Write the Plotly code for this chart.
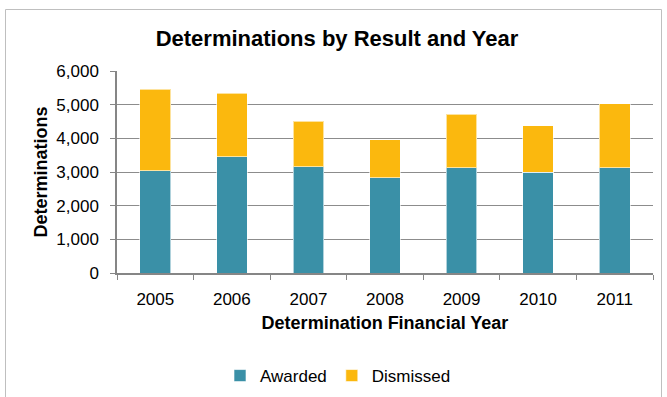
import plotly.graph_objects as go

years = ["2005", "2006", "2007", "2008", "2009", "2010", "2011"]
awarded = [3040, 3460, 3160, 2830, 3130, 3000, 3130]
dismissed = [2420, 1880, 1345, 1130, 1585, 1375, 1890]

W, H = 667, 397
L, R, T, B = 117, 14, 71, 124
pw, ph = W - L - R, H - T - B

def px(x):
    return (x - L) / pw

def py(y):
    return (H - B - y) / ph

font = "Liberation Sans, Arial, sans-serif"

fig = go.Figure()
fig.add_trace(go.Bar(x=years, y=awarded, name="Awarded", marker_color="#3A90A7",
                     marker_line=dict(color="rgba(255,255,255,0.6)", width=1)))
fig.add_trace(go.Bar(x=years, y=dismissed, name="Dismissed", marker_color="#FBB80E",
                     marker_line=dict(color="rgba(255,255,255,0.6)", width=1)))

fig.update_layout(
    barmode="stack",
    bargap=0.6,
    width=W, height=H,
    margin=dict(l=L, r=R, t=T, b=B, autoexpand=False),
    paper_bgcolor="white",
    plot_bgcolor="white",
    font=dict(family=font, size=17, color="#000000"),
    title=dict(text="<b>Determinations by Result and Year</b>", x=px(337), xref="paper",
               xanchor="center", y=1 - 38 / H, yanchor="middle",
               font=dict(size=22, family=font, color="#000000")),
    showlegend=True,
    legend=dict(orientation="h", x=px(338), xanchor="center",
                yref="container", y=1 - 376 / H, yanchor="middle",
                font=dict(size=17, family=font), traceorder="normal",
                itemwidth=30, bgcolor="rgba(0,0,0,0)"),
    xaxis=dict(
        type="category", automargin=False,
        showline=True, linecolor="#868686", linewidth=1.5,
        ticks="outside", ticklen=5, tickcolor="#868686", tickson="boundaries",
        ticklabelstandoff=10,
        showgrid=False,
        tickfont=dict(size=17, color="#000000"),
        title=dict(text="<b>Determination Financial Year</b>", standoff=8,
                   font=dict(size=18, color="#000000")),
    ),
    yaxis=dict(
        range=[0, 6000], dtick=1000, tickformat=",d", automargin=False,
        showline=True, linecolor="#868686", linewidth=1.5,
        ticks="outside", ticklen=5, tickcolor="#868686",
        ticklabelstandoff=8,
        showgrid=True, gridcolor="#8C8C8C", gridwidth=1.3,
        zeroline=False,
        tickfont=dict(size=17, color="#000000"),
        title=dict(text="<b>Determinations</b>", standoff=4,
                   font=dict(size=18, color="#000000")),
    ),
    shapes=[dict(type="rect", xref="paper", yref="paper",
                 x0=px(5.5), x1=px(661.5), y0=py(420), y1=py(9.5),
                 line=dict(color="#BFBFBF", width=1), layer="below")],
)

fig.write_html("out.html")
